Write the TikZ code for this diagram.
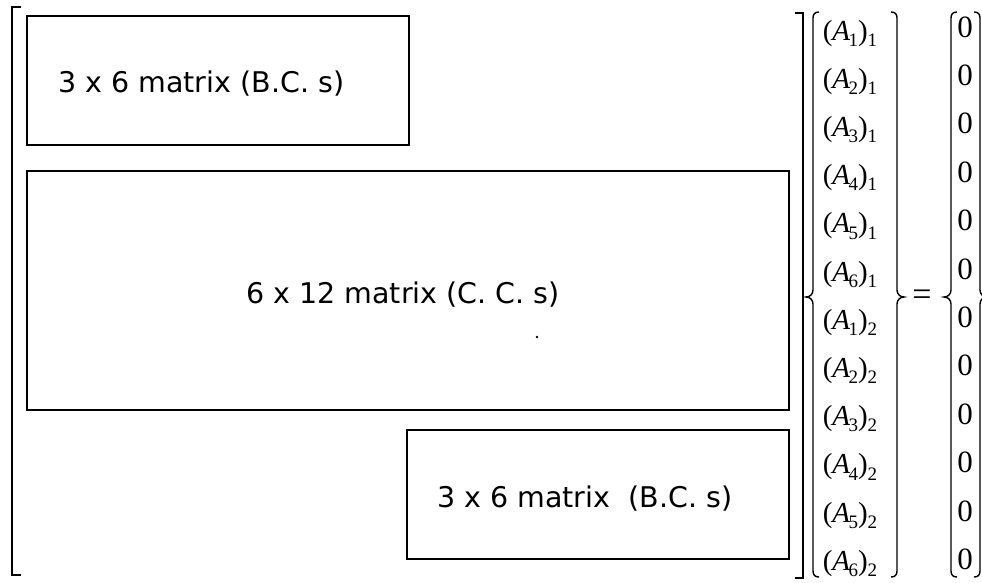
\documentclass[tikz,border=0pt]{standalone}
\usepackage{fontspec}
\setmainfont{Liberation Serif}
\newfontfamily\boxfont{DejaVu Sans}
\newcommand{\ent}[2]{{\fontsize{29}{29}\selectfont (\textit{A}\kern-0.06em\raisebox{-0.22em}{\fontsize{19}{19}\selectfont #1})\raisebox{-0.22em}{\fontsize{19}{19}\selectfont #2}}}
\begin{document}
\begin{tikzpicture}[x=1pt,y=-1pt,
  boxst/.style={draw, line width=2.4pt, inner sep=0pt, outer sep=0pt, anchor=north west},
  lbl/.style={font=\boxfont\fontsize{28.5}{30}\selectfont, inner sep=0pt},
  entry/.style={inner sep=0pt, anchor=base},
  zero/.style={inner sep=0pt, anchor=base, font=\fontsize{31}{31}\selectfont},
  brk/.style={line width=2.4pt},
  brace/.style={line width=1.4pt}]
\useasboundingbox (0,0) rectangle (982,582);
\clip (0,0) rectangle (982,582);
% matrix brackets
\coordinate (lb1) at (21,7);
\coordinate (lb2) at (21,575);
\coordinate (rb1) at (795,13);
\coordinate (rb2) at (795,578);
\draw[brk] (lb1) -- (12,7) -- (12,575) -- (lb2);
\draw[brk] (rb1) -- (803,13) -- (803,578) -- (rb2);
% boxes
\node[boxst, minimum width=382pt, minimum height=129pt] (b1) at (27,16) {};
\node[boxst, minimum width=762pt, minimum height=239pt] (b2) at (27,171) {};
\node[boxst, minimum width=382pt, minimum height=129pt] (b3) at (407,430) {};
\node[lbl, anchor=base west] (t1) at (58,92) {3 x 6 matrix (B.C. s)};
\node[lbl, anchor=base east] (t2) at (560,303) {6 x 12 matrix (C. C. s)};
\node[lbl, anchor=base west] (t3) at (437,507) {3 x 6 matrix\ \ (B.C. s)};
\fill (537,337) circle (1.3pt);
% unknown vector entries
\foreach \i/\a/\b [count=\k from 0] in {1/1/1,2/2/1,3/3/1,4/4/1,5/5/1,6/6/1,7/1/2,8/2/2,9/3/2,10/4/2,11/5/2,12/6/2}{
  \node[entry] (e\i) at (850,{40+48.2*\k}) {\ent{\a}{\b}};
  \node[zero] (z\i) at (965,{37+48.4*\k}) {0};
}
\node[inner sep=0pt, anchor=base, font=\fontsize{34}{34}\selectfont] (eq) at (922,305) {=};
% braces of the unknown vector
\draw[brace] (819,12) .. controls (815,12) and (813,14) .. (813,18) -- (813,290)
  .. controls (813,294) and (810,297) .. (806,297)
  .. controls (810,297) and (813,300) .. (813,304) -- (813,571)
  .. controls (813,575) and (815,577) .. (819,577);
\draw[brace] (891,12) .. controls (895,12) and (897,14) .. (897,18) -- (897,290)
  .. controls (897,294) and (900,297) .. (904,297)
  .. controls (900,297) and (897,300) .. (897,304) -- (897,571)
  .. controls (897,575) and (895,577) .. (891,577);
% braces of the zero vector
\draw[brace] (957,12) .. controls (953,12) and (951,14) .. (951,18) -- (951,290)
  .. controls (951,294) and (948,297) .. (944,297)
  .. controls (948,297) and (951,300) .. (951,304) -- (951,571)
  .. controls (951,575) and (953,577) .. (957,577);
\draw[brace] (974,12) .. controls (978,12) and (980,14) .. (980,18) -- (980,290)
  .. controls (980,294) and (983,297) .. (987,297)
  .. controls (983,297) and (980,300) .. (980,304) -- (980,571)
  .. controls (980,575) and (978,577) .. (974,577);
\end{tikzpicture}
\end{document}
